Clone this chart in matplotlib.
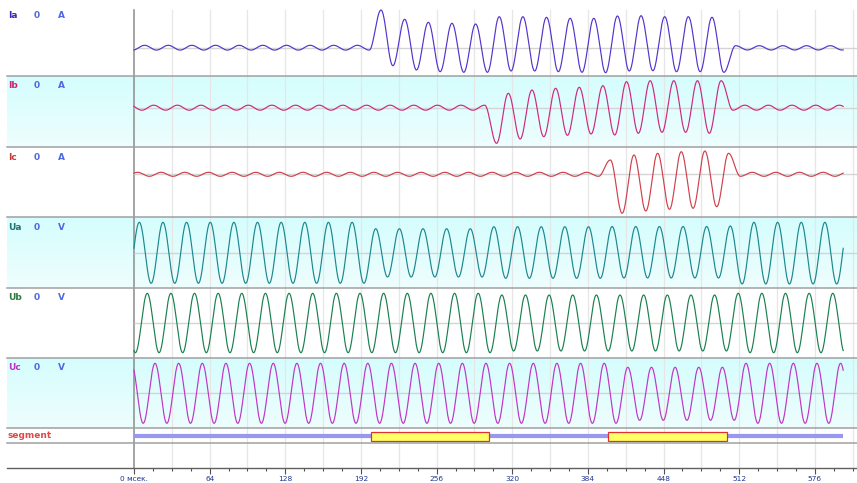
import numpy as np
import matplotlib
matplotlib.use("Agg")
import matplotlib.pyplot as plt
from matplotlib.lines import Line2D
from matplotlib.patches import Rectangle

# ---------------------------------------------------------------------------
# Recorded oscillogram: 50 Hz, 0..600 ms.  Each channel is stored as the
# value of its positive peak and negative trough for every cycle.
# Cycle k has its peak at phase + 20k ms and its trough 10 ms later.
# ---------------------------------------------------------------------------
t_start, t_end = 0.0, 600.0
period = 20.0

ia_phase = 9.0
ia_peaks = [2.4] * 10 + [37.7, 28.4, 25.4, 24.4, 23.7, 31.0, 31.0, 30.4, 29.4, 29.4,
                         31.7, 32.0, 31.0, 31.0, 30.4] + [2.0] * 6
ia_troughs = [-2.4] * 10 + [-18.0, -22.3, -24.0, -24.6, -24.6, -23.3, -23.3, -24.0, -24.6,
                            -25.0, -23.3, -23.0, -24.0, -24.0, -24.6] + [-2.3] * 6

ib_phase = 16.7
ib_peaks = [2.5] * 15 + [14.4, 17.7, 19.4, 20.4, 22.0, 26.0, 27.0, 27.0, 27.0, 27.0] + [2.5] * 6
ib_troughs = [-2.5] * 14 + [-35.6, -31.3, -29.0, -27.6, -26.3, -27.3, -25.6, -24.6, -24.6,
                            -25.6] + [-2.5] * 7

ic_phase = 3.0
ic_peaks = [2.0] * 20 + [14.3, 19.3, 21.0, 22.6, 23.3, 21.0] + [2.0] * 5
ic_troughs = [-2.0] * 20 + [-39.0, -36.7, -35.0, -34.0, -32.4] + [-2.0] * 6

ua_phase = 4.5
ua_peaks = [30.7] * 10 + [24.3] * 5 + [26.3] * 5 + [26.5] * 5 + [27.0] + [30.7] * 5
ua_troughs = [-30.3] * 10 + [-24.0] * 5 + [-25.3] * 5 + [-25.0] * 5 + [-31.0] * 6

ub_phase = 11.2
ub_peaks = [29.7] * 15 + [28.0] * 10 + [29.7] * 6
ub_troughs = [-29.7] * 15 + [-28.0] * 10 + [-29.7] * 6

uc_phase = 17.8
uc_peaks = [30.0] * 20 + [26.0] * 5 + [30.0] * 6
uc_troughs = [-30.0] * 20 + [-27.0] * 5 + [-30.0] * 6

# Fault segments (ms)
seg_starts = [200.5, 400.6]
seg_ends = [300.0, 502.0]

# Axis ticks (ms)
major_ticks = list(range(0, 577, 64))
minor_ticks = list(range(0, 609, 16))
grid_ticks = list(range(32, 609, 32))

# ---------------------------------------------------------------------------
W, H = 857, 483
PX_PER_MS = 1.182
ORIGIN_PX = 134
LEFT_PX = 7
x_lo = (LEFT_PX - ORIGIN_PX) / PX_PER_MS
x_hi = (W - ORIGIN_PX) / PX_PER_MS

fig = plt.figure(figsize=(W / 100, H / 100), dpi=100)
fig.patch.set_facecolor("white")

CYAN_TOP = np.array([213, 253, 253]) / 255
CYAN_BOT = np.array([238, 254, 254]) / 255


def build_trace(t, phase, peaks, troughs):
    kt, kv = [], []
    n = len(peaks)
    for k in range(-1, n):
        j = max(k, 0)
        kt += [phase + period * k, phase + period * k + period / 2]
        kv += [peaks[j], troughs[min(j, len(troughs) - 1)]]
    kt = np.array(kt)
    kv = np.array(kv)
    idx = np.clip(np.searchsorted(kt, t, side="right") - 1, 0, len(kt) - 2)
    t0, t1 = kt[idx], kt[idx + 1]
    s = np.clip((t - t0) / (t1 - t0), 0, 1)
    return kv[idx] + (kv[idx + 1] - kv[idx]) * (1 - np.cos(np.pi * s)) / 2


def panel(top, bottom, center=None, cyan=False, grid_top=None):
    ax = fig.add_axes([LEFT_PX / W, 1 - bottom / H, (W - LEFT_PX) / W, (bottom - top) / H])
    c = center if center is not None else (top + bottom) / 2
    ax.set_xlim(x_lo, x_hi)
    ax.set_ylim(c - bottom, c - top)
    ax.axis("off")
    if cyan:
        grad = np.linspace(0, 1, 64)[:, None, None]
        img = CYAN_TOP[None, None, :] * (1 - grad) + CYAN_BOT[None, None, :] * grad
        ax.imshow(img, extent=[x_lo, x_hi, c - bottom, c - top], aspect="auto",
                  zorder=0, interpolation="bilinear")
    ymax = 1.0 if grid_top is None else (bottom - grid_top) / (bottom - top)
    for g in grid_ticks:
        ax.axvline(g, ymin=0, ymax=ymax, color="#e6e6e6", lw=0.9, zorder=1)
    ax.axvline(0, ymin=0, ymax=ymax, color="#8c8c8c", lw=1.1, zorder=2)
    return ax


t = np.arange(t_start, t_end + 0.01, 0.2)

channels = [
    # name, unit, top, bottom, center, cyan, phase, peaks, troughs, colour, label colour
    ("Ia", "A", 0, 76, 47.7, False, ia_phase, ia_peaks, ia_troughs, "#5533cc", "#3b22b8"),
    ("Ib", "A", 76, 147, 107.7, True, ib_phase, ib_peaks, ib_troughs, "#cc2a80", "#c02878"),
    ("Ic", "A", 147, 217, 174.3, False, ic_phase, ic_peaks, ic_troughs, "#d0404c", "#c83a3a"),
    ("Ua", "V", 217, 287.5, 253.0, True, ua_phase, ua_peaks, ua_troughs, "#1a8890", "#207070"),
    ("Ub", "V", 287.5, 358, 323.0, False, ub_phase, ub_peaks, ub_troughs, "#1a8050", "#2a7a40"),
    ("Uc", "V", 358, 428.3, 393.3, True, uc_phase, uc_peaks, uc_troughs, "#c035c5", "#c030c8"),
]

for i, (name, unit, top, bot, cen, cyan, ph, pk, tr, col, lcol) in enumerate(channels):
    ax = panel(top, bot, cen, cyan, grid_top=10 if i == 0 else None)
    ax.hlines(0, 0, x_hi, color="#d4d4d4", lw=1.0, zorder=2)
    y = build_trace(t, ph, pk, tr)
    ax.plot(t, y, color=col, lw=0.85, zorder=3, solid_joinstyle="round")
    ly = top + 10 if i > 0 else 15.7
    fig.text(8 / W, 1 - ly / H, name, color=lcol, fontsize=6.5, fontweight="bold",
             va="center", ha="left")
    fig.text(34 / W, 1 - ly / H, "0", color="#5068e0", fontsize=6.5, fontweight="bold",
             va="center", ha="left")
    fig.text(58 / W, 1 - ly / H, unit, color="#5068e0", fontsize=6.5, fontweight="bold",
             va="center", ha="left")

# Segment row
ax_seg = panel(428.3, 443.3, 436.0)
ax_seg.hlines(0, t_start, t_end, color="#9898f0", lw=3.0, zorder=3)
for s0, s1 in zip(seg_starts, seg_ends):
    ax_seg.add_patch(Rectangle((s0, -4.5), s1 - s0, 9, facecolor="#ffff66",
                               edgecolor="#e03030", lw=0.9, zorder=4))
fig.text(8 / W, 1 - 436 / H, "segment", color="#e04848", fontsize=6.5,
         fontweight="bold", va="center", ha="left")

# Empty row with the time axis underneath
ax_t = panel(443.3, 467.7)
ax_t.axis("on")
for side in ("top", "left", "right"):
    ax_t.spines[side].set_visible(False)
ax_t.spines["bottom"].set_color("#606060")
ax_t.spines["bottom"].set_linewidth(1.0)
ax_t.set_yticks([])
ax_t.set_xticks(major_ticks)
ax_t.set_xticklabels(["0 мсек."] + [str(v) for v in major_ticks[1:]])
ax_t.set_xticks(minor_ticks, minor=True)
ax_t.tick_params(axis="x", which="major", direction="out", length=4.2, width=0.8,
                 color="#505050", labelsize=5.3, labelcolor="#1f3590", pad=1.5)
ax_t.tick_params(axis="x", which="minor", direction="out", length=2.3, width=0.8,
                 color="#505050")
ax_t.set_facecolor("none")

# Row separators
for yy in (76, 147, 217, 287.5, 358, 428.3, 443.3):
    fig.add_artist(Line2D([LEFT_PX / W, 1], [1 - yy / H, 1 - yy / H],
                          color="#a0a0a0", lw=1.1, transform=fig.transFigure))

fig.savefig("out.png", dpi=100, facecolor="white")
